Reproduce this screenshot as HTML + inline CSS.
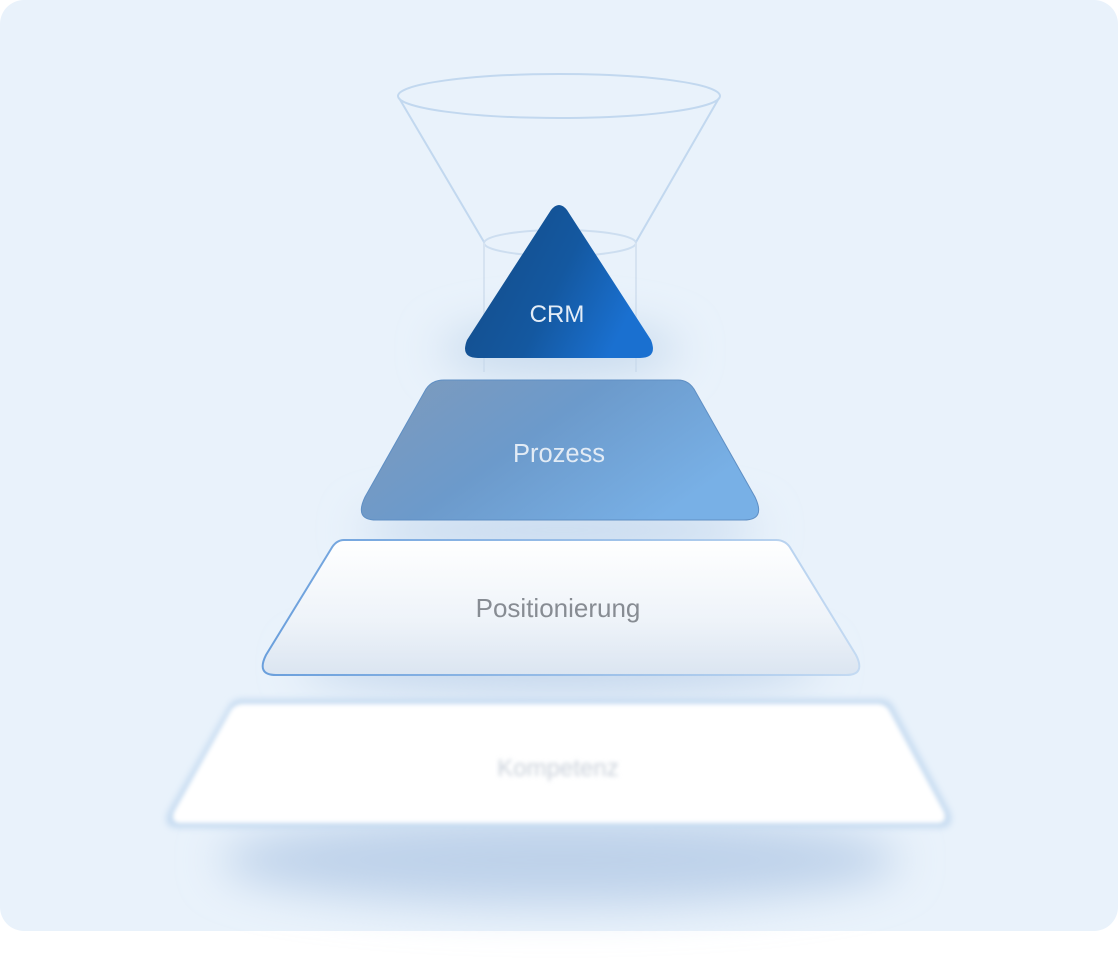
<!DOCTYPE html>
<html><head><meta charset="utf-8"><style>
html,body{margin:0;padding:0;background:#fff;}
svg{display:block;}
text{font-family:"Liberation Sans",sans-serif;}
</style></head><body>
<svg width="1118" height="960" viewBox="0 0 1118 960" xmlns="http://www.w3.org/2000/svg">
<defs>
<filter id="b2" x="-20%" y="-20%" width="140%" height="140%"><feGaussianBlur stdDeviation="2"/></filter>
<filter id="b3" x="-20%" y="-20%" width="140%" height="140%"><feGaussianBlur stdDeviation="3.5"/></filter>
<filter id="b20" x="-50%" y="-100%" width="200%" height="300%"><feGaussianBlur stdDeviation="22"/></filter>
<linearGradient id="crm" x1="0" y1="0" x2="1" y2="0.4"><stop offset="0" stop-color="#134b86"/><stop offset="0.6" stop-color="#1458a0"/><stop offset="1" stop-color="#1a70d0"/></linearGradient>
<linearGradient id="pro" x1="0" y1="0" x2="1" y2="0.5"><stop offset="0" stop-color="#7f9bbb"/><stop offset="0.5" stop-color="#6c9acb"/><stop offset="1" stop-color="#78b0e6"/></linearGradient>
<linearGradient id="pos" x1="0" y1="0" x2="0" y2="1"><stop offset="0" stop-color="#ffffff"/><stop offset="0.6" stop-color="#eef3f9"/><stop offset="1" stop-color="#dbe5f1"/></linearGradient>
<linearGradient id="posS" x1="0" y1="0" x2="1" y2="0"><stop offset="0" stop-color="#6a9fdc"/><stop offset="1" stop-color="#c4daf2"/></linearGradient>
</defs>
<rect x="0" y="0" width="1118" height="931" rx="24" fill="#e9f2fb"/>
<g fill="none" stroke="#c2d8ef" stroke-width="2">
<ellipse cx="559" cy="96" rx="161" ry="22"/>
<line x1="399" y1="98" x2="484" y2="242"/>
<line x1="719" y1="98" x2="636" y2="242"/>
<ellipse cx="560" cy="243" rx="76" ry="13" stroke="#cddef0"/>
<line x1="484" y1="243" x2="484" y2="372" stroke="#d6e3f1"/>
<line x1="636" y1="243" x2="636" y2="372" stroke="#d6e3f1"/>
</g>
<ellipse cx="560" cy="350" rx="120" ry="25" fill="#c5d8ec" filter="url(#b20)"/>
<ellipse cx="560" cy="530" rx="200" ry="25" fill="#c6d9ee" filter="url(#b20)"/>
<ellipse cx="560" cy="665" rx="260" ry="28" fill="#c3d6ec" filter="url(#b20)"/>
<ellipse cx="560" cy="860" rx="340" ry="45" fill="#bed2ea" filter="url(#b20)"/>
<path d="M242 699 L880 699 Q890 699 894 708 L950 812 Q955 828 940 828 L178 828 Q162 828 168 812 L228 708 Q232 699 242 699 Z" fill="#c6dbf1" filter="url(#b3)"/>
<path d="M244 704 L877 704 Q886 704 890 712 L944 812 Q948 823 936 823 L182 823 Q170 823 174 812 L230 712 Q234 704 244 704 Z" fill="#ffffff" filter="url(#b2)"/>
<text x="558" y="776" font-size="24" fill="#c9d0da" text-anchor="middle" filter="url(#b2)">Kompetenz</text>
<path d="M344 540 L776 540 Q786 540 791 549 L856 655 Q866 675 846 675 L276 675 Q256 675 266 655 L331 549 Q336 540 344 540 Z" fill="url(#pos)" stroke="url(#posS)" stroke-width="2"/>
<text x="558" y="617" font-size="26" fill="#878c93" text-anchor="middle">Positionierung</text>
<path d="M444 380 L678 380 Q688 380 694 389 L755 497 Q766 520 744 520 L376 520 Q354 520 365 497 L426 389 Q432 380 444 380 Z" fill="url(#pro)" stroke="#5f8fc4" stroke-width="1"/>
<text x="559" y="462" font-size="25.5" fill="#e2ebf5" text-anchor="middle">Prozess</text>
<path d="M551 210 Q559 200 567 210 L651 340 Q658 358 640 358 L478 358 Q460 358 467 340 Z" fill="url(#crm)"/>
<text x="557" y="322" font-size="24" fill="#e4edf7" text-anchor="middle">CRM</text>
</svg>
</body></html>
